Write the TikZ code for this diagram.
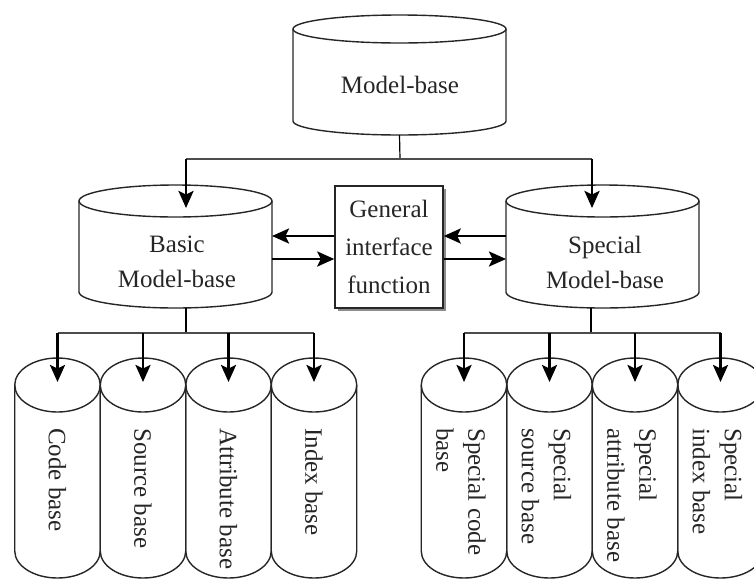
\documentclass[tikz,border=0pt]{standalone}
\usepackage{fontspec}
\setmainfont{Liberation Serif}
\usetikzlibrary{arrows.meta,shadows}
\begin{document}
\begin{tikzpicture}[x=1pt,y=1pt,
  cyl/.style={draw=black!85, line width=1.4pt},
  bus/.style={draw=black!70, line width=1.7pt},
  feed/.style={draw=black, line width=1.2pt},
  arr/.style={draw=black, line width=2.6pt, -{Stealth[length=17pt,width=15pt,inset=3.5pt]}},
  lbl/.style={font=\fontsize{25}{35}\selectfont, text=black!85, align=center, inner sep=0pt},
  vlbl/.style={font=\fontsize{25}{32}\selectfont, text=black!85, align=left, inner sep=0pt, rotate=-90, anchor=west},
  ifbox/.style={draw=black!85, line width=1.5pt, fill=white, minimum width=108pt, minimum height=122pt,
    inner sep=0pt, align=center, text=black!85, font=\fontsize{25}{38}\selectfont,
    drop shadow={shadow xshift=3pt, shadow yshift=-3pt, fill=black!45, opacity=1}},
  % upright database cylinder: #1 width, #2 side length, #3 vertical radius of the ends
  pics/dbcyl/.style n args={3}{code={
    \draw[cyl] ({-(#1)/2},0) -- ({-(#1)/2},{-(#2)})
      arc[start angle=180, end angle=360, x radius={(#1)/2}, y radius={#3}]
      -- ({(#1)/2},0);
    \draw[cyl] (0,0) ellipse[x radius={(#1)/2}, y radius={#3}];
    \coordinate (-c) at (0,0);
    \coordinate (-s) at (0,{-(#2)-(#3)});
    \coordinate (-e) at ({(#1)/2},0);
    \coordinate (-w) at ({-(#1)/2},0);
  }}
]
\useasboundingbox (0,0) rectangle (754,-579);

% model bases
\pic (mb)  at (399.5,-29) {dbcyl={213}{92}{14}};
\pic (bmb) at (175.5,-201) {dbcyl={193}{91}{16}};
\pic (smb) at (602.5,-201) {dbcyl={193}{91}{16}};

\node[lbl] (mbt)  at (400,-85)  {Model-base};
\node[lbl] (bmbt) at (177,-262) {Basic\\Model-base};
\node[lbl] (smbt) at (605,-262) {Special\\Model-base};

% interface box
\node[ifbox] (gif) at (389,-247) {General\\interface\\function};

% component bases under the basic model-base
\pic (c1) at (57.5,-385)  {dbcyl={85.5}{166}{27}};
\pic (c2) at (143,-385)   {dbcyl={85.5}{166}{27}};
\pic (c3) at (228.5,-385) {dbcyl={85.5}{166}{27}};
\pic (c4) at (314,-385)   {dbcyl={85.5}{166}{27}};
% component bases under the special model-base
\pic (s1) at (464,-385)   {dbcyl={85.5}{166}{27}};
\pic (s2) at (549.5,-385) {dbcyl={85.5}{166}{27}};
\pic (s3) at (635,-385)   {dbcyl={85.5}{166}{27}};
\pic (s4) at (720.5,-385) {dbcyl={85.5}{166}{27}};

\node[vlbl] (c1t) at (57.5,-428)  {Code base};
\node[vlbl] (c2t) at (143,-428)   {Source base};
\node[vlbl] (c3t) at (228.5,-428) {Attribute base};
\node[vlbl] (c4t) at (314,-428)   {Index base};
\node[vlbl] (s1t) at (461,-428)   {Special code\\base};
\node[vlbl] (s2t) at (546.5,-428) {Special\\source base};
\node[vlbl] (s3t) at (632,-428)   {Special\\attribute base};
\node[vlbl] (s4t) at (717.5,-428) {Special\\index base};

% distribution from the top model-base
\coordinate (topbus) at (400,-159);
\coordinate (bin) at (186,-208);
\coordinate (sin) at (592,-208);
\draw[feed] (mb-s) -- (topbus);
\draw[bus] (topbus -| bin) -- (topbus -| sin);
\draw[arr] (topbus -| bin) -- (bin);
\draw[arr] (topbus -| sin) -- (sin);

% exchange with the interface function
\coordinate (gwu) at ([yshift=11pt]gif.west);
\coordinate (gwd) at ([yshift=-12pt]gif.west);
\coordinate (geu) at ([yshift=11pt]gif.east);
\coordinate (ged) at ([yshift=-12pt]gif.east);
\draw[arr] (gwu) -- (gwu -| bmb-e);
\draw[arr] (gwd -| bmb-e) -- (gwd);
\draw[arr] (geu -| smb-w) -- (geu);
\draw[arr] (ged) -- (ged -| smb-w);

% distribution to the component bases
\coordinate (bbus) at (186,-333);
\coordinate (sbus) at (591,-333);
\draw[feed] (bbus |- bmb-s) -- (bbus);
\draw[feed] (sbus |- smb-s) -- (sbus);
\draw[bus] (c1-c |- bbus) -- (c4-c |- bbus);
\draw[bus] (s1-c |- sbus) -- (s4-c |- sbus);
\foreach \k in {c1,c2,c3,c4,s1,s2,s3,s4}
  \draw[arr] (\k-c |- bbus) -- ([yshift=3pt]\k-c);
\end{tikzpicture}
\end{document}
